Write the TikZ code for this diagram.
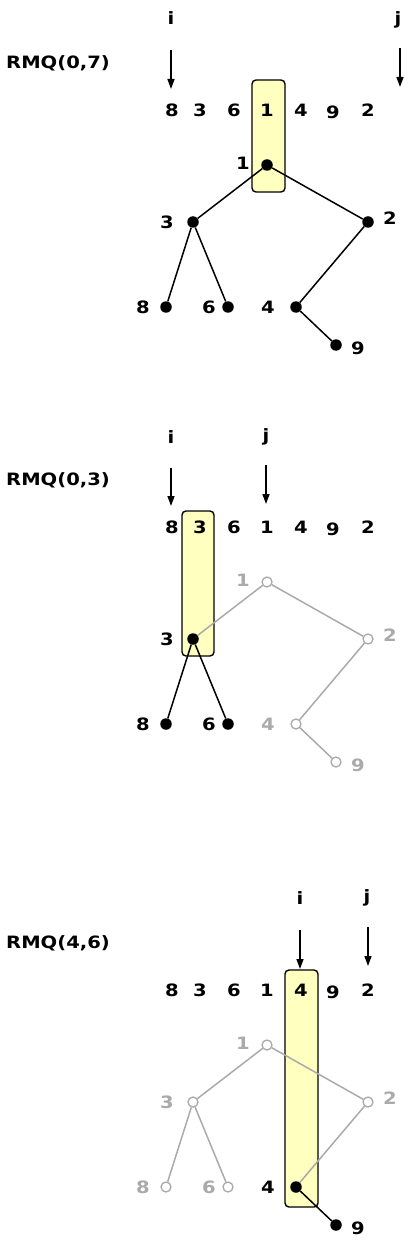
\documentclass[tikz,border=0pt]{standalone}
\usepackage{fontspec}
\setmainfont{DejaVu Sans}[FakeStretch=1.15]
\usetikzlibrary{arrows.meta}
\definecolor{gry}{RGB}{170,170,170}
\definecolor{hl}{RGB}{255,255,192}
\tikzset{
  txt/.style={font=\fontsize{17}{19}\selectfont\bfseries, inner sep=0pt, text=black},
  gtxt/.style={txt, text=gry},
  dotb/.style={circle, fill=black, inner sep=0pt, minimum size=11.5pt},
  doto/.style={circle, draw=gry, fill=white, line width=1.3pt, inner sep=0pt, minimum size=10pt},
  edb/.style={draw=black, line width=1.5pt},
  edg/.style={draw=gry, line width=1.5pt},
  arr/.style={draw=black, line width=1.4pt, -{Triangle[length=10pt,width=7pt]}},
  hbox/.style={draw=black, fill=hl, line width=1.4pt, rounded corners=4pt},
}
\begin{document}
\begin{tikzpicture}[x=1pt,y=-1pt]
\useasboundingbox (0,0) rectangle (409,1246);

% ================= Panel 1 =================
\begin{scope}
\path[hbox] (252,80) rectangle (285,192);
\node[txt] (p1i) at (171,18) {i};
\node[txt] (p1j) at (398,20) {j};
\node[txt, anchor=west] (p1rmq) at (6,63) {RMQ(0,7)};
\coordinate (p1is) at (171,50); \coordinate (p1ie) at (171,89);
\coordinate (p1js) at (400,48); \coordinate (p1je) at (400,87);
\draw[arr] (p1is) -- (p1ie);
\draw[arr] (p1js) -- (p1je);
\node[txt] (p1a0) at (172,110) {8};
\node[txt] (p1a1) at (200,110) {3};
\node[txt] (p1a2) at (234,110) {6};
\node[txt] (p1a3) at (267,110) {1};
\node[txt] (p1a4) at (301,110) {4};
\node[txt] (p1a5) at (333,112) {9};
\node[txt] (p1a6) at (368,110) {2};
\node[dotb] (p1n1) at (267,165) {};
\node[dotb] (p1n3) at (193,222) {};
\node[dotb] (p1n2) at (368,222) {};
\node[dotb] (p1n8) at (166,307) {};
\node[dotb] (p1n6) at (228,307) {};
\node[dotb] (p1n4) at (296,307) {};
\node[dotb] (p1n9) at (336,345) {};
\node[txt] (p1l1) at (243,163) {1};
\node[txt] (p1l3) at (167,222) {3};
\node[txt] (p1l2) at (390,218) {2};
\node[txt] (p1l8) at (143,307) {8};
\node[txt] (p1l6) at (209,307) {6};
\node[txt] (p1l4) at (268,307) {4};
\node[txt] (p1l9) at (358,348) {9};
\draw[edb] (p1n1) -- (p1n3);
\draw[edb] (p1n1) -- (p1n2);
\draw[edb] (p1n3) -- (p1n8);
\draw[edb] (p1n3) -- (p1n6);
\draw[edb] (p1n2) -- (p1n4);
\draw[edb] (p1n4) -- (p1n9);
\end{scope}

% ================= Panel 2 =================
\begin{scope}[yshift=-417pt]
\path[hbox] (182,94) rectangle (214,239);
\node[txt] (p2i) at (171,20) {i};
\node[txt] (p2j) at (266,20) {j};
\node[txt, anchor=west] (p2rmq) at (6,63) {RMQ(0,3)};
\coordinate (p2is) at (171,51); \coordinate (p2ie) at (171,89);
\coordinate (p2js) at (266,48); \coordinate (p2je) at (266,87);
\draw[arr] (p2is) -- (p2ie);
\draw[arr] (p2js) -- (p2je);
\node[txt] (p2a0) at (172,110) {8};
\node[txt] (p2a1) at (200,110) {3};
\node[txt] (p2a2) at (234,110) {6};
\node[txt] (p2a3) at (267,110) {1};
\node[txt] (p2a4) at (301,110) {4};
\node[txt] (p2a5) at (333,112) {9};
\node[txt] (p2a6) at (368,110) {2};
\node[doto] (p2n1) at (267,165) {};
\node[dotb] (p2n3) at (193,222) {};
\node[doto] (p2n2) at (368,222) {};
\node[dotb] (p2n8) at (166,307) {};
\node[dotb] (p2n6) at (228,307) {};
\node[doto] (p2n4) at (296,307) {};
\node[doto] (p2n9) at (336,345) {};
\node[gtxt] (p2l1) at (243,163) {1};
\node[txt] (p2l3) at (167,222) {3};
\node[gtxt] (p2l2) at (390,218) {2};
\node[txt] (p2l8) at (143,307) {8};
\node[txt] (p2l6) at (209,307) {6};
\node[gtxt] (p2l4) at (268,307) {4};
\node[gtxt] (p2l9) at (358,348) {9};
\draw[edg] (p2n1) -- (p2n3);
\draw[edg] (p2n1) -- (p2n2);
\draw[edb] (p2n3) -- (p2n8);
\draw[edb] (p2n3) -- (p2n6);
\draw[edg] (p2n2) -- (p2n4);
\draw[edg] (p2n4) -- (p2n9);
\end{scope}

% ================= Panel 3 =================
\begin{scope}[yshift=-880pt]
\path[hbox] (285,90) rectangle (318,327);
\node[txt] (p3i) at (300,18) {i};
\node[txt] (p3j) at (367,18) {j};
\node[txt, anchor=west] (p3rmq) at (6,63) {RMQ(4,6)};
\coordinate (p3is) at (300,50); \coordinate (p3ie) at (300,89);
\coordinate (p3js) at (368,47); \coordinate (p3je) at (368,86);
\draw[arr] (p3is) -- (p3ie);
\draw[arr] (p3js) -- (p3je);
\node[txt] (p3a0) at (172,110) {8};
\node[txt] (p3a1) at (200,110) {3};
\node[txt] (p3a2) at (234,110) {6};
\node[txt] (p3a3) at (267,110) {1};
\node[txt] (p3a4) at (301,110) {4};
\node[txt] (p3a5) at (333,112) {9};
\node[txt] (p3a6) at (368,110) {2};
\node[doto] (p3n1) at (267,165) {};
\node[doto] (p3n3) at (193,222) {};
\node[doto] (p3n2) at (368,222) {};
\node[doto] (p3n8) at (166,307) {};
\node[doto] (p3n6) at (228,307) {};
\node[dotb] (p3n4) at (296,307) {};
\node[dotb] (p3n9) at (336,345) {};
\node[gtxt] (p3l1) at (243,163) {1};
\node[gtxt] (p3l3) at (167,222) {3};
\node[gtxt] (p3l2) at (390,218) {2};
\node[gtxt] (p3l8) at (143,307) {8};
\node[gtxt] (p3l6) at (209,307) {6};
\node[txt] (p3l4) at (268,307) {4};
\node[txt] (p3l9) at (358,348) {9};
\draw[edg] (p3n1) -- (p3n3);
\draw[edg] (p3n1) -- (p3n2);
\draw[edg] (p3n3) -- (p3n8);
\draw[edg] (p3n3) -- (p3n6);
\draw[edg] (p3n2) -- (p3n4);
\draw[edb] (p3n4) -- (p3n9);
\end{scope}
\end{tikzpicture}
\end{document}
